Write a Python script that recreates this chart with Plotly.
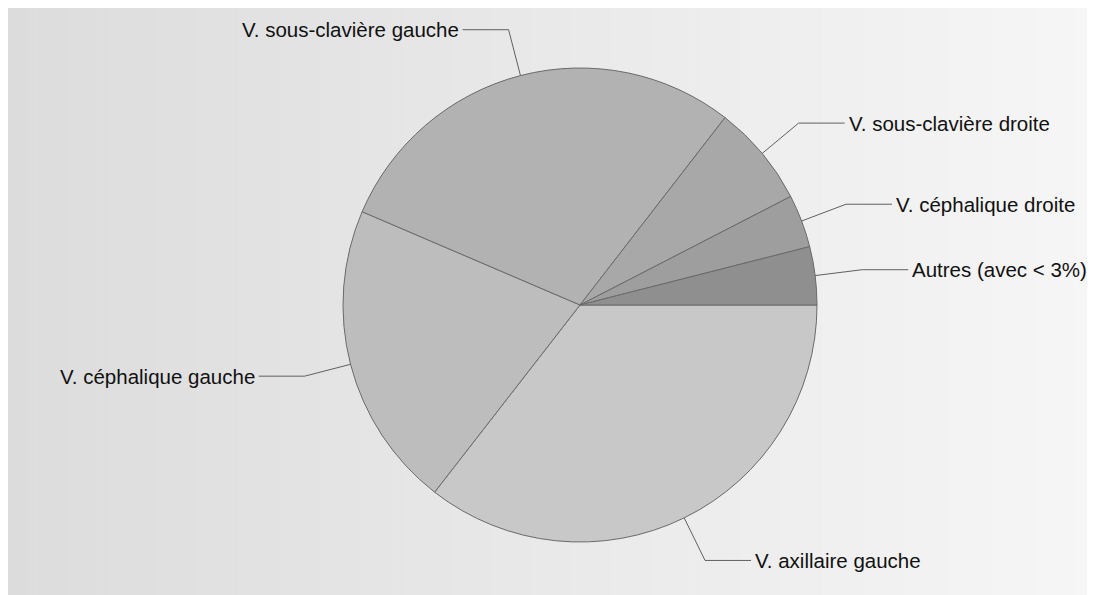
import math
import plotly.graph_objects as go

# ---- data ----
labels = [
    "Autres (avec < 3%)",
    "V. céphalique droite",
    "V. sous-clavière droite",
    "V. sous-clavière gauche",
    "V. céphalique gauche",
    "V. axillaire gauche",
]
values = [3.96, 3.61, 6.95, 29.04, 20.93, 35.51]
slice_colors = ["#8f8f8f", "#9e9e9e", "#a8a8a8", "#b2b2b2", "#bdbdbd", "#c8c8c8"]

# ---- layout geometry (pixels, figure coordinates) ----
W, H = 1087, 587
cx, cy, R = 572.0, 297.0, 237.0
elbow_k = 1.2
hseg = 46.0
text_gap = 2.0


def px(x):
    return x / W


def py(y):
    return 1.0 - y / H


fig = go.Figure()

# counterclockwise order starting at 3 o'clock == clockwise order of reversed lists
fig.add_trace(go.Pie(
    labels=labels[::-1],
    values=values[::-1],
    sort=False,
    direction="clockwise",
    rotation=90,
    textinfo="none",
    hoverinfo="label+percent",
    marker=dict(colors=slice_colors[::-1], line=dict(color="#6a6a6a", width=1)),
    domain=dict(x=[px(cx - R), px(cx + R)], y=[py(cy + R), py(cy - R)]),
    showlegend=False,
))

shapes = []
# background gradient (left darker -> right lighter)
n = 160
c_left, c_right = 0xdc, 0xf6
for i in range(n):
    a = W * i / n
    b = W * (i + 1) / n + 0.6
    t = (i + 0.5) / n
    c = round(c_left + (c_right - c_left) * t)
    shapes.append(dict(type="rect", xref="paper", yref="paper",
                       x0=px(a), x1=px(min(b, W)), y0=0, y1=1,
                       fillcolor=f"rgb({c},{c},{c})", line=dict(width=0),
                       layer="below"))

annotations = []
total = sum(values)
cum = 0.0
for lab, v in zip(labels, values):
    mid = (cum + v / 2) / total * 2 * math.pi
    cum += v
    cs, sn = math.cos(mid), math.sin(mid)
    ex, ey = cx + R * cs, cy - R * sn
    bx, by = cx + elbow_k * R * cs, cy - elbow_k * R * sn
    right = cs >= 0
    hx = bx + hseg if right else bx - hseg
    path = f"M {px(ex)},{py(ey)} L {px(bx)},{py(by)} L {px(hx)},{py(by)}"
    shapes.append(dict(type="path", xref="paper", yref="paper", path=path,
                       line=dict(color="#606060", width=1), layer="above"))
    annotations.append(dict(
        xref="paper", yref="paper",
        x=px(hx + text_gap if right else hx - text_gap), y=py(by),
        xanchor="left" if right else "right", yanchor="middle",
        text=lab, showarrow=False,
        font=dict(family="Arial, Liberation Sans, sans-serif", size=20.5, color="#111111"),
    ))

fig.update_layout(
    width=W, height=H,
    margin=dict(l=0, r=0, t=0, b=0),
    paper_bgcolor="white",
    plot_bgcolor="white",
    shapes=shapes,
    annotations=annotations,
)

fig.write_html("out.html")
